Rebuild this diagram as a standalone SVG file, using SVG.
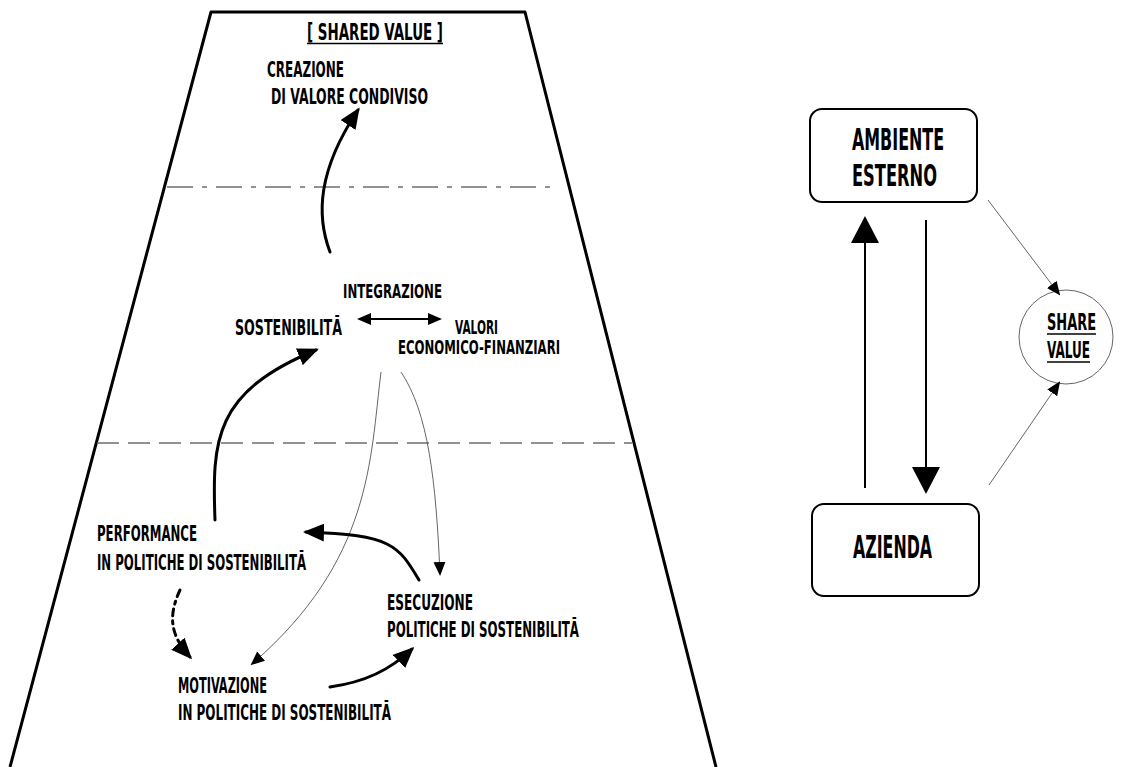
<svg xmlns="http://www.w3.org/2000/svg" width="1124" height="767" viewBox="0 0 1124 767">
  <defs>
    <style>
      .lbl { font-family: "Liberation Sans Narrow", "DejaVu Sans Condensed", "Liberation Sans", sans-serif; font-weight: bold; fill: #000; }
      .frame { fill: none; stroke: #000; stroke-width: 3; stroke-linejoin: round; }
      .sep { stroke: #6e6e6e; stroke-width: 1.3; fill: none; }
      .box { fill: #fff; stroke: #000; stroke-width: 2; }
      .thick { fill: none; stroke: #000; stroke-width: 3; stroke-linecap: round; }
      .thin { fill: none; stroke: #555; stroke-width: 0.9; }
      .mid { fill: none; stroke: #000; stroke-width: 2; }
      .ul { stroke: #000; stroke-width: 1.6; }
    </style>
    <marker id="headBig" markerUnits="userSpaceOnUse" markerWidth="22" markerHeight="18" refX="18" refY="9" orient="auto">
      <path d="M0,0 L21,9 L0,18 z" fill="#000"/>
    </marker>
    <marker id="headMid" markerUnits="userSpaceOnUse" markerWidth="28" markerHeight="30" refX="24" refY="15" orient="auto">
      <path d="M0,1 L27,15 L0,29 z" fill="#000"/>
    </marker>
    <marker id="headSmall" markerUnits="userSpaceOnUse" markerWidth="14" markerHeight="12" refX="12" refY="6" orient="auto">
      <path d="M0,0 L14,6 L0,12 z" fill="#000"/>
    </marker>
    <marker id="headDbl" markerUnits="userSpaceOnUse" markerWidth="14" markerHeight="12" refX="12" refY="6" orient="auto-start-reverse">
      <path d="M0,0 L14,6 L0,12 z" fill="#000"/>
    </marker>
  </defs>

  <rect width="1124" height="767" fill="#fff"/>

  <!-- frame of the left panel and its level separators -->
  <g id="frame">
    <path class="frame" d="M10,767 L211,12 L525,12 L716,767"/>
    <line class="sep" x1="167" y1="187" x2="557" y2="187" stroke-dasharray="26 9 5 9"/>
    <line class="sep" x1="97" y1="443" x2="632" y2="443" stroke-dasharray="22 9"/>
  </g>

  <g id="title">
    <text class="lbl" x="307" y="40" font-size="23" textLength="136" lengthAdjust="spacingAndGlyphs">[ SHARED VALUE ]</text>
    <line class="ul" x1="307" y1="43.5" x2="443" y2="43.5"/>
  </g>

  <g id="creazione">
    <text class="lbl" x="267" y="77" font-size="22" textLength="77" lengthAdjust="spacingAndGlyphs">CREAZIONE</text>
    <text class="lbl" x="271" y="104" font-size="22" textLength="157" lengthAdjust="spacingAndGlyphs">DI VALORE  CONDIVISO</text>
  </g>

  <g id="integrazione">
    <text class="lbl" x="343" y="298" font-size="20" textLength="99" lengthAdjust="spacingAndGlyphs">INTEGRAZIONE</text>
  </g>

  <g id="sostenibilita">
    <text class="lbl" x="235" y="335" font-size="21" textLength="107" lengthAdjust="spacingAndGlyphs">SOSTENIBILITĀ</text>
  </g>

  <g id="valori">
    <text class="lbl" x="455" y="334" font-size="19" textLength="43" lengthAdjust="spacingAndGlyphs">VALORI</text>
    <text class="lbl" x="398" y="354" font-size="19" textLength="162" lengthAdjust="spacingAndGlyphs">ECONOMICO-FINANZIARI</text>
  </g>

  <g id="performance">
    <text class="lbl" x="97" y="541" font-size="21" textLength="100" lengthAdjust="spacingAndGlyphs">PERFORMANCE</text>
    <text class="lbl" x="97" y="570" font-size="21" textLength="209" lengthAdjust="spacingAndGlyphs">IN POLITICHE DI SOSTENIBILITĀ</text>
  </g>

  <g id="esecuzione">
    <text class="lbl" x="387" y="610" font-size="21" textLength="86" lengthAdjust="spacingAndGlyphs">ESECUZIONE</text>
    <text class="lbl" x="387" y="637" font-size="21" textLength="192" lengthAdjust="spacingAndGlyphs">POLITICHE DI SOSTENIBILITĀ</text>
  </g>

  <g id="motivazione">
    <text class="lbl" x="178" y="693" font-size="21" textLength="89" lengthAdjust="spacingAndGlyphs">MOTIVAZIONE</text>
    <text class="lbl" x="178" y="720" font-size="21" textLength="213" lengthAdjust="spacingAndGlyphs">IN POLITICHE DI  SOSTENIBILITĀ</text>
  </g>

  <g id="ambiente-esterno">
    <rect class="box" x="810" y="109" width="167" height="93" rx="12"/>
    <text class="lbl" x="852" y="150" font-size="31" textLength="92" lengthAdjust="spacingAndGlyphs">AMBIENTE</text>
    <text class="lbl" x="852" y="186" font-size="31" textLength="85" lengthAdjust="spacingAndGlyphs">ESTERNO</text>
  </g>

  <g id="azienda">
    <rect class="box" x="812" y="504" width="167" height="92" rx="12"/>
    <text class="lbl" x="853" y="558" font-size="32" textLength="79" lengthAdjust="spacingAndGlyphs">AZIENDA</text>
  </g>

  <g id="share-value">
    <ellipse cx="1066" cy="337" rx="47" ry="47" fill="#fff" stroke="#666" stroke-width="1"/>
    <text class="lbl" x="1047" y="330" font-size="23" textLength="49" lengthAdjust="spacingAndGlyphs">SHARE</text>
    <line class="ul" x1="1047" y1="334" x2="1096" y2="334"/>
    <text class="lbl" x="1047" y="358" font-size="23" textLength="43" lengthAdjust="spacingAndGlyphs">VALUE</text>
    <line class="ul" x1="1047" y1="362" x2="1090" y2="362"/>
  </g>

  <g id="connectors">
    <!-- vertical flow in the left panel -->
    <path class="thick" d="M330,252 C316,215 318,170 358,110" marker-end="url(#headBig)"/>
    <path class="thick" d="M215,520 C212,440 214,392 316,350" marker-end="url(#headBig)"/>
    <line class="mid" x1="359" y1="319" x2="440" y2="319" marker-start="url(#headDbl)" marker-end="url(#headDbl)"/>
    <path class="thin" d="M381,372 C370,460 372,560 252,664" marker-end="url(#headSmall)"/>
    <path class="thin" d="M401,372 C428,412 436,480 440,574" marker-end="url(#headSmall)"/>
    <!-- feedback loop among the three policy stages -->
    <path class="thick" d="M419,580 C398,545 392,535 306,532" marker-end="url(#headBig)"/>
    <path class="thick" d="M330,687 C365,682 390,670 412,649" marker-end="url(#headBig)"/>
    <path class="thick" d="M180,590 C168,616 170,635 190,657" stroke-dasharray="7 5 3 5" marker-end="url(#headBig)"/>
    <!-- right panel exchanges -->
    <line class="mid" x1="865" y1="488" x2="865" y2="219" marker-end="url(#headMid)"/>
    <line class="mid" x1="926" y1="220" x2="926" y2="491" marker-end="url(#headMid)"/>
    <line class="thin" x1="988" y1="200" x2="1059" y2="294" marker-end="url(#headSmall)"/>
    <line class="thin" x1="989" y1="485" x2="1059" y2="383" marker-end="url(#headSmall)"/>
  </g>
</svg>
